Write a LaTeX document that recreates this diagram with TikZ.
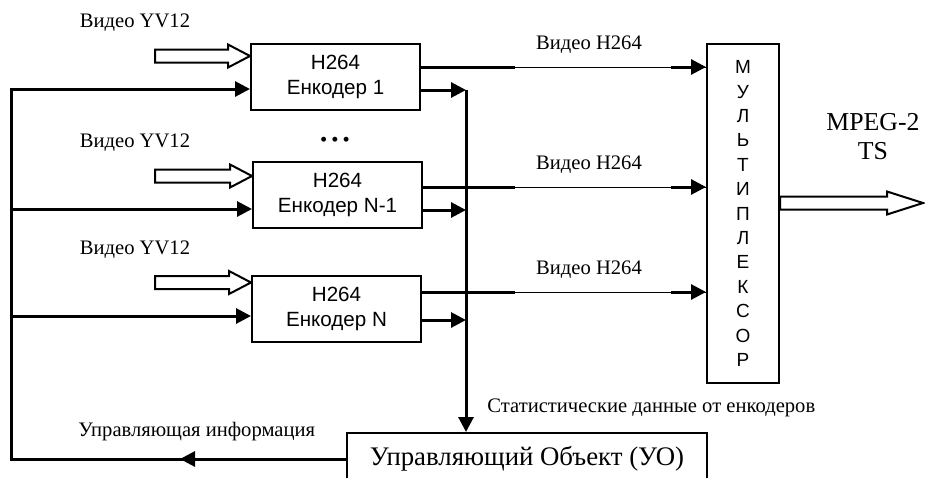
\documentclass[tikz,border=0pt]{standalone}
\usepackage{fontspec}
\setmainfont{Liberation Serif}
\setsansfont{Liberation Sans}
\usetikzlibrary{arrows.meta,calc}

\tikzset{
  encbox/.style={draw, line width=1pt, align=center, inner sep=0pt,
    minimum width=84.5pt, minimum height=33pt,
    font=\sffamily\fontsize{10.3}{12.5}\selectfont},
  muxbox/.style={draw, line width=1pt, align=center, inner sep=0pt,
    minimum width=36pt, minimum height=169.5pt,
    font=\sffamily\fontsize{9.5}{12.2}\selectfont},
  uobox/.style={draw, line width=1pt, inner sep=0pt,
    minimum width=180pt, minimum height=26pt,
    font=\fontsize{13.4}{15}\selectfont},
  lbl/.style={inner sep=0pt, font=\fontsize{10.3}{12}\selectfont},
  ctl/.style={line width=1.5pt},
  arrowline/.style={-{Triangle[length=7.5pt,width=7.5pt]}},
}

% wide open arrow: from, to, head length, head half width
\newcommand{\hollowarrow}[4]
{
\draw[line width=1pt, fill=white] let \p1=(#1), \p2=(#2) in
  (\x1,{\y2+3.25pt}) -- ({\x2-#3},{\y2+3.25pt}) -- ({\x2-#3},{\y2+#4})
  -- (\x2,\y2) -- ({\x2-#3},{\y2-#4}) -- ({\x2-#3},{\y2-3.25pt})
  -- (\x1,{\y2-3.25pt}) -- cycle;
}

% H264 stream from an encoder into the multiplexer
\newcommand{\videoout}[2]
{
\draw[ctl] (#1.east |- #2) -- (#2);
\draw[line width=0.5pt] (#2) -- (mux.west |- #2);
\draw[ctl, arrowline] ($(mux.west |- #2)+(-35,0)$) -- (mux.west |- #2);
}

\begin{document}
\begin{tikzpicture}[x=0.5pt, y=-0.5pt]
  \clip (0,0) rectangle (925,477);

  \node[encbox] (enc1) at (335.5,77) {H264\\Енкодер 1};
  \node[encbox] (encN1) at (337.5,195) {H264\\Енкодер N-1};
  \node[encbox] (encN) at (336.5,309) {H264\\Енкодер N};
  \node[lbl] (dots) at (335,142) {\textbullet\hspace{2pt}\textbullet\hspace{2pt}\textbullet};

  \node[muxbox] (mux) at (743,213.5) {М\\У\\Л\\Ь\\Т\\И\\П\\Л\\Е\\К\\С\\О\\Р};
  \node[uobox, anchor=north] (uo) at (527,432) {Управляющий Объект (УО)};

  % raw video in
  \node[lbl] (yv1) at (135,23) {Видео YV12};
  \node[lbl] (yv2) at (135,143) {Видео YV12};
  \node[lbl] (yv3) at (135,250) {Видео YV12};
  \coordinate (in1) at (155,56);
  \coordinate (in2) at (155,176);
  \coordinate (in3) at (155,282.5);
  \hollowarrow{in1}{enc1.west |- in1}{11pt}{5.75pt}
  \hollowarrow{in2}{encN1.west |- in2}{11pt}{5.75pt}
  \hollowarrow{in3}{encN.west |- in3}{11pt}{5.75pt}

  % encoded video out
  \node[lbl] (h1) at (589,45) {Видео H264};
  \node[lbl] (h2) at (589,165) {Видео H264};
  \node[lbl] (h3) at (589,270) {Видео H264};
  \coordinate (vid1) at (515,67);
  \coordinate (vid2) at (515,187);
  \coordinate (vid3) at (515,292);
  \videoout{enc1}{vid1}
  \videoout{encN1}{vid2}
  \videoout{encN}{vid3}

  % statistics bus
  \coordinate (stat1) at (466,90);
  \coordinate (stat2) at (466,210);
  \coordinate (stat3) at (466,320);
  \draw[ctl, arrowline] (enc1.east |- stat1) -- (stat1);
  \draw[ctl, arrowline] (encN1.east |- stat2) -- (stat2);
  \draw[ctl, arrowline] (encN.east |- stat3) -- (stat3);
  \draw[ctl, arrowline] (stat1) -- (stat1 |- uo.north);
  \node[lbl, anchor=west] (statlbl) at (487,408) {Статистические данные от енкодеров};

  % control feedback
  \coordinate (bus1) at (11,89);
  \coordinate (bus2) at (11,209);
  \coordinate (bus3) at (11,316);
  \coordinate (ctlarrow) at (180,458);
  \draw[ctl, arrowline] (uo.west) -| (bus1) -- (enc1.west |- bus1);
  \draw[ctl, arrowline] (bus2) -- (encN1.west |- bus2);
  \draw[ctl, arrowline] (bus3) -- (encN.west |- bus3);
  \draw[ctl, arrowline] (uo.west) -- (uo.west -| ctlarrow);
  \node[lbl, anchor=west] (ctllbl) at (78,432) {Управляющая информация};

  % transport stream out
  \coordinate (ts) at (923,203);
  \hollowarrow{mux.east |- ts}{ts}{18pt}{5.75pt}
  \node[align=center, inner sep=0pt, font=\fontsize{12.9}{14.5}\selectfont] (tslbl) at (873,137) {MPEG-2\\TS};
\end{tikzpicture}
\end{document}
